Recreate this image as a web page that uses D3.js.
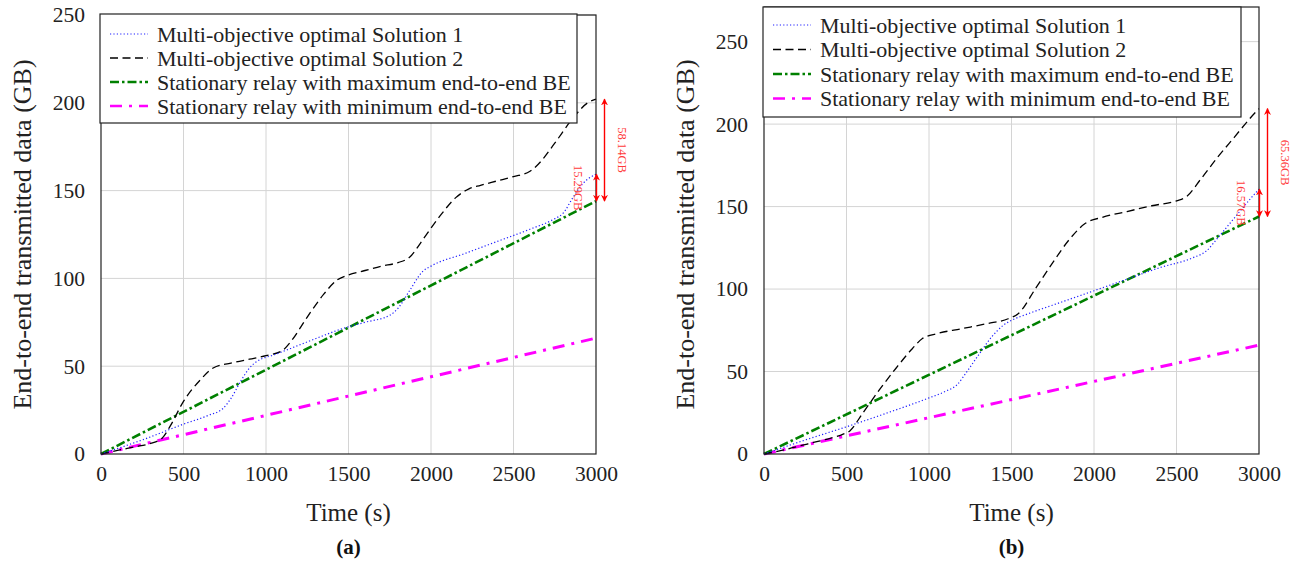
<!DOCTYPE html>
<html>
<head>
<meta charset="utf-8">
<script src="https://cdn.jsdelivr.net/npm/d3@7"></script>
<style>
  html, body { margin: 0; padding: 0; background: #fff; }
  svg { display: block; font-family: "Liberation Serif", "DejaVu Serif", serif; }
</style>
</head>
<body>
<div id="chart"></div>
<script>
/* Transmitted data vs time — two panels (a) and (b) */

// Series labels (legend order)
var SERIES_NAMES = [
  "Multi-objective optimal Solution 1",
  "Multi-objective optimal Solution 2",
  "Stationary relay with maximum end-to-end BE",
  "Stationary relay with minimum end-to-end BE"
];

var X_TICKS = [0, 500, 1000, 1500, 2000, 2500, 3000];
var Y_TICKS = [0, 50, 100, 150, 200, 250];

// Panel (a) — [time s, data GB]
var A_SOL1 = [[0,0],[250,8],[500,17],[650,22],[740,26],[790,32],[850,42],[900,49],[950,53],[1050,56.5],
  [1200,62],[1350,67.5],[1450,71],[1600,75],[1750,79],[1800,83],[1870,93],[1950,104],[2000,107],
  [2200,114],[2400,121],[2600,128],[2750,134],[2800,137],[2860,146],[2920,154],[3000,159.3]];
var A_SOL2 = [[0,0],[100,2],[200,4],[300,6],[370,9],[420,16],[500,30],[600,42],[680,49],[800,52],
  [900,54],[1000,56],[1100,59],[1150,64],[1250,78],[1350,91],[1430,99],[1500,102],[1600,104.5],
  [1700,107],[1800,109],[1870,112],[1950,122],[2050,135],[2150,146],[2230,151],[2300,153],
  [2400,155.5],[2500,158],[2600,161],[2650,165],[2750,177],[2850,190],[2950,200],[3000,202.1]];
var A_MAX = [[0,0],[3000,144]];
var A_MIN = [[0,0],[3000,66]];
var A_GAPS = ["15.29GB", "58.14GB"];

// Panel (b)
var B_SOL1 = [[0,0],[250,8.5],[500,16.5],[750,25],[1000,34],[1100,38],[1170,42],[1230,50],[1300,60],
  [1380,71],[1450,78],[1510,81.5],[1600,85],[1800,92],[2000,99],[2200,106],[2400,113],[2600,119],
  [2680,123],[2750,131],[2850,143],[2950,155],[3000,160.6]];
var B_SOL2 = [[0,0],[100,2],[200,4.5],[300,7],[400,9.5],[480,12],[520,14],[600,25],[700,39],[800,52],
  [900,64],[960,70],[1050,73],[1200,76],[1350,79],[1480,82],[1540,85],[1650,101],[1750,116],
  [1850,130],[1950,140],[2050,143.5],[2200,147],[2350,150.5],[2500,153.5],[2560,156],[2650,167],
  [2750,180],[2850,192],[2950,204],[3000,209.4]];
var B_MAX = [[0,0],[3000,144]];
var B_MIN = [[0,0],[3000,66]];
var B_GAPS = ["16.57GB", "65.36GB"];

// line styles per series
var STYLES = [
  { color: "#1f1fff", width: 1.2, dash: "1.2,2.2" },
  { color: "#000000", width: 1.3, dash: "8,4.5" },
  { color: "#008000", width: 2.6, dash: "9,3,2.5,3" },
  { color: "#ff00ff", width: 3, dash: "12,7,3,7" }
];

var PANELS = [
  { series: [A_SOL1, A_SOL2, A_MAX, A_MIN], gaps: A_GAPS, ymax: 250, caption: "(a)",
    left: 101, right: 596, top: 15, bottom: 454, titleX: 22,
    legend: { x: 100, y: 14, w: 477, h: 109, row0: 34, step: 24 } },
  { series: [B_SOL1, B_SOL2, B_MAX, B_MIN], gaps: B_GAPS, ymax: 271, caption: "(b)",
    left: 764, right: 1259, top: 7, bottom: 454, titleX: 685,
    legend: { x: 763, y: 7, w: 478, h: 110, row0: 25, step: 24.5 } }
];

var svg = d3.select("#chart").append("svg")
  .attr("width", 1301).attr("height", 563);

var defs = svg.append("defs");
defs.append("marker")
  .attr("id", "redHead")
  .attr("viewBox", "0 0 10 10")
  .attr("refX", 9).attr("refY", 5)
  .attr("markerWidth", 7).attr("markerHeight", 7)
  .attr("markerUnits", "userSpaceOnUse")
  .attr("orient", "auto-start-reverse")
  .append("path")
  .attr("d", "M0,0 L10,5 L0,10 L3,5 Z")
  .attr("fill", "#ff0000");

PANELS.forEach(function(p, pi) {
  var x = d3.scaleLinear().domain([0, 3000]).range([p.left, p.right]);
  var y = d3.scaleLinear().domain([0, p.ymax]).range([p.bottom, p.top]);
  var g = svg.append("g");

  // grid
  g.append("g").selectAll("line").data(X_TICKS.slice(1, -1)).enter().append("line")
    .attr("x1", function(d) { return x(d); }).attr("x2", function(d) { return x(d); })
    .attr("y1", p.top).attr("y2", p.bottom)
    .attr("stroke", "#d4d4d4").attr("stroke-width", 1);
  g.append("g").selectAll("line").data(Y_TICKS.slice(1)).enter().append("line")
    .attr("x1", p.left).attr("x2", p.right)
    .attr("y1", function(d) { return y(d); }).attr("y2", function(d) { return y(d); })
    .attr("stroke", "#d4d4d4").attr("stroke-width", 1);

  // axes (ticks only as labels, pgfplots style)
  var xAxis = d3.axisBottom(x).tickValues(X_TICKS).tickSize(0).tickPadding(12).tickFormat(d3.format("d"));
  var yAxis = d3.axisLeft(y).tickValues(Y_TICKS).tickSize(0).tickPadding(16).tickFormat(d3.format("d"));
  var gx = g.append("g").attr("transform", "translate(0," + p.bottom + ")").call(xAxis);
  var gy = g.append("g").attr("transform", "translate(" + p.left + ",0)").call(yAxis);
  [gx, gy].forEach(function(ax) {
    ax.select(".domain").remove();
    ax.selectAll("text").attr("font-size", "21.5px").attr("fill", "#222")
      .attr("font-family", "Liberation Serif, serif");
  });

  // series
  var line = d3.line()
    .x(function(d) { return x(d[0]); })
    .y(function(d) { return y(d[1]); })
    .curve(d3.curveMonotoneX);
  var order = [3, 2, 1, 0];
  order.forEach(function(si) {
    var st = STYLES[si];
    g.append("path")
      .datum(p.series[si])
      .attr("d", line)
      .attr("fill", "none")
      .attr("stroke", st.color)
      .attr("stroke-width", st.width)
      .attr("stroke-dasharray", st.dash);
  });

  // frame
  g.append("rect")
    .attr("x", p.left).attr("y", p.top)
    .attr("width", p.right - p.left).attr("height", p.bottom - p.top)
    .attr("fill", "none").attr("stroke", "#222").attr("stroke-width", 1.2);

  // gap annotations
  var endOf = function(s) { return s[s.length - 1][1]; };
  var vMax = endOf(p.series[2]), v1 = endOf(p.series[0]), v2 = endOf(p.series[1]);
  var xe = x(3000);
  var arrows = [
    { x: xe + 0.5, from: v1, to: vMax, dx: -18, text: p.gaps[0] },
    { x: xe + 8.5, from: v2, to: vMax, dx: 26, text: p.gaps[1] }
  ];
  arrows.forEach(function(a) {
    g.append("line")
      .attr("x1", a.x).attr("x2", a.x)
      .attr("y1", y(a.from)).attr("y2", y(a.to))
      .attr("stroke", "#ff0000").attr("stroke-width", 1.4)
      .attr("marker-start", "url(#redHead)")
      .attr("marker-end", "url(#redHead)");
    var cy = (y(a.from) + y(a.to)) / 2;
    g.append("text")
      .attr("transform", "translate(" + (xe + a.dx) + "," + cy + ") rotate(90)")
      .attr("text-anchor", "middle")
      .attr("dominant-baseline", "central")
      .attr("font-size", "12.5px")
      .attr("fill", "#ff3a3a")
      .text(a.text);
  });

  // legend
  var L = p.legend;
  var lg = g.append("g");
  lg.append("rect")
    .attr("x", L.x).attr("y", L.y).attr("width", L.w).attr("height", L.h)
    .attr("fill", "#fff").attr("stroke", "#222").attr("stroke-width", 1.2);
  SERIES_NAMES.forEach(function(name, i) {
    var st = STYLES[i];
    var ry = L.row0 + i * L.step;
    lg.append("line")
      .attr("x1", L.x + 10).attr("x2", L.x + 48)
      .attr("y1", ry).attr("y2", ry)
      .attr("stroke", st.color)
      .attr("stroke-width", Math.min(st.width, 2.4))
      .attr("stroke-dasharray", st.dash);
    lg.append("text")
      .attr("x", L.x + 57).attr("y", ry)
      .attr("dominant-baseline", "central")
      .attr("font-size", "22px")
      .attr("fill", "#222")
      .text(name);
  });

  // axis titles and caption
  var cx = (p.left + p.right) / 2;
  g.append("text")
    .attr("x", cx).attr("y", 521)
    .attr("text-anchor", "middle").attr("font-size", "25px").attr("fill", "#222")
    .text("Time (s)");
  g.append("text")
    .attr("transform", "translate(" + p.titleX + "," + ((p.top + p.bottom) / 2 + (pi === 0 ? 0 : 4)) + ") rotate(-90)")
    .attr("text-anchor", "middle").attr("dominant-baseline", "central")
    .attr("font-size", "26px").attr("fill", "#222")
    .text("End-to-end transmitted data (GB)");
  g.append("text")
    .attr("x", cx).attr("y", 554)
    .attr("text-anchor", "middle").attr("font-size", "21px").attr("font-weight", "bold")
    .attr("fill", "#111")
    .text(p.caption);
});
</script>
</body>
</html>
